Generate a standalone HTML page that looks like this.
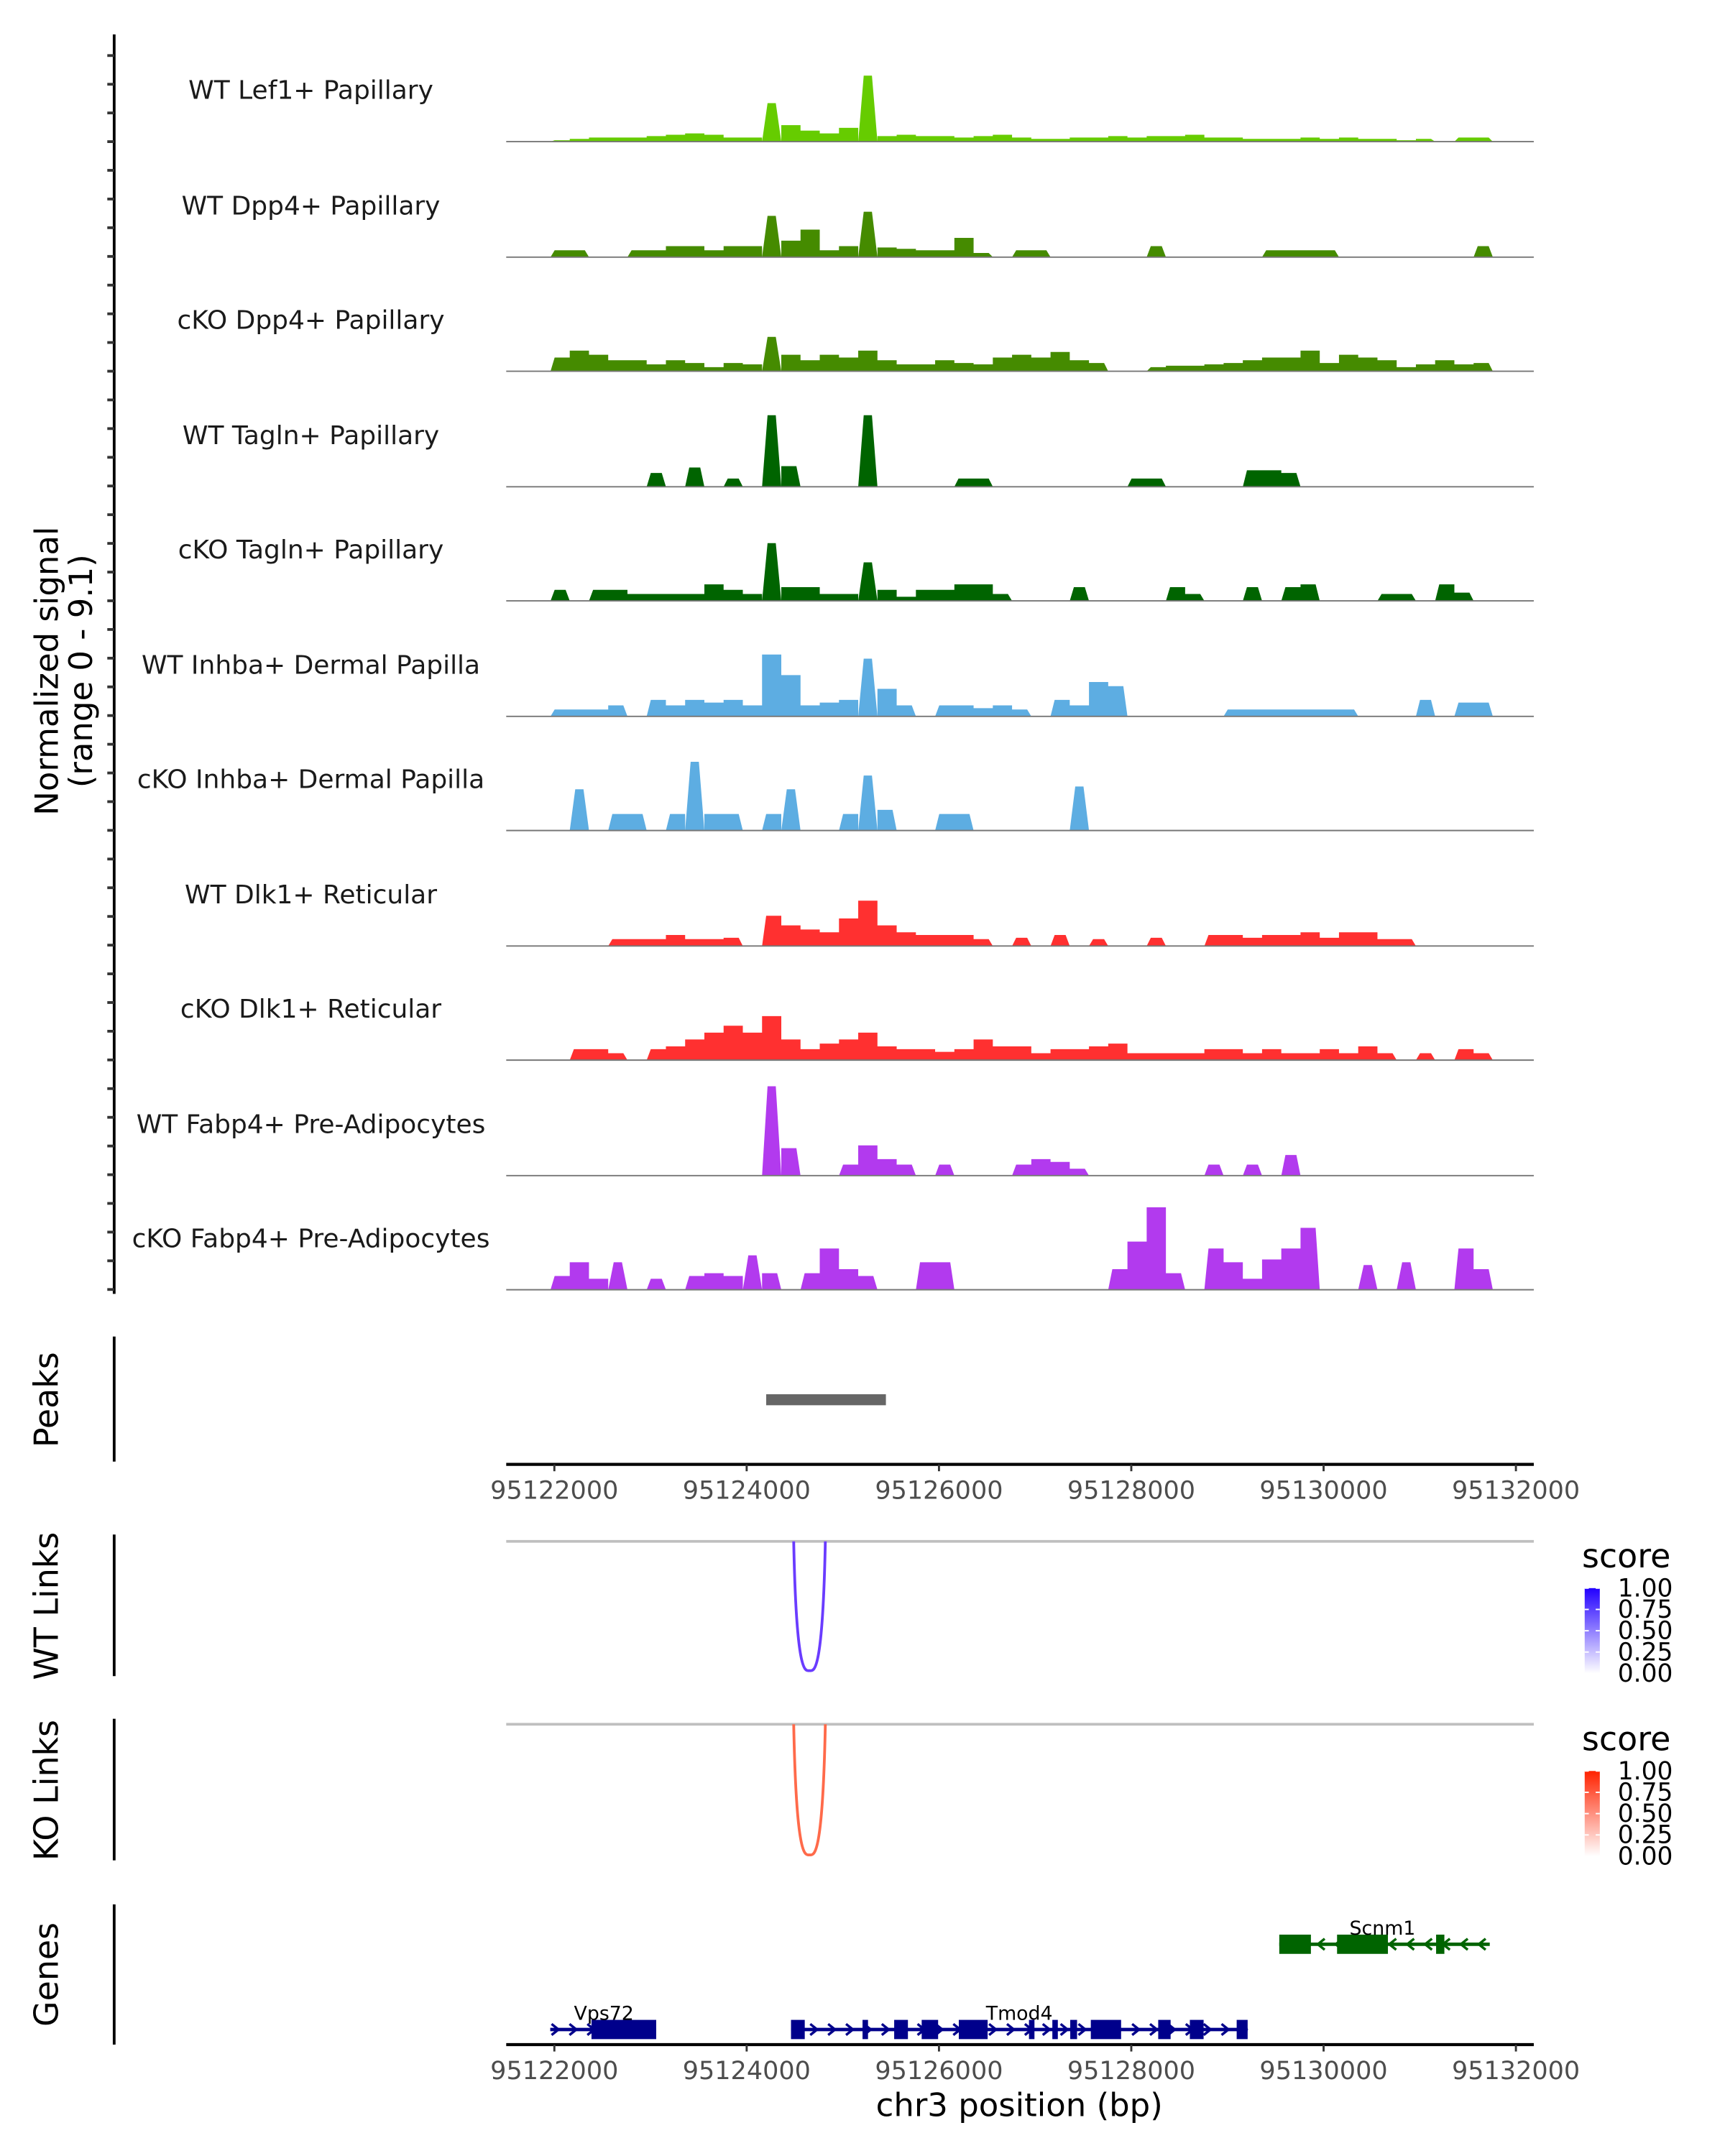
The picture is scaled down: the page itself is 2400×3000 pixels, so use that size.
<!DOCTYPE html>
<html><head><meta charset="utf-8"><style>
html,body{margin:0;padding:0;background:#fff}
svg{display:block}
text{font-family:"DejaVu Sans","Liberation Sans",sans-serif}
</style></head><body>
<svg id="chart" width="2400" height="3000" viewBox="0 0 1254 1568" preserveAspectRatio="none" xmlns="http://www.w3.org/2000/svg"></svg>
<script>
// ---- data ----
const binStart = 95121960;
const binSize = 200;
const trackNames = ["WT Lef1+ Papillary","WT Dpp4+ Papillary","cKO Dpp4+ Papillary","WT Tagln+ Papillary","cKO Tagln+ Papillary","WT Inhba+ Dermal Papilla","cKO Inhba+ Dermal Papilla","WT Dlk1+ Reticular","cKO Dlk1+ Reticular","WT Fabp4+ Pre-Adipocytes","cKO Fabp4+ Pre-Adipocytes"];
const trackColors = ["#66cc00","#458b00","#458b00","#006400","#006400","#5dade2","#5dade2","#ff3030","#ff3030","#b23aee","#b23aee"];
const sigLef1WT = [1,2,3,3,3,4,5,6,5,3,3,28,12,8,6,10,48,4,5,4,4,3,4,5,3,2,2,3,3,4,3,4,4,5,3,3,2,2,2,3,2,3,2,2,1,2,0,3,3,0];
const sigDpp4WT = [5,5,0,0,5,5,8,8,5,8,8,30,12,20,5,8,33,7,6,5,5,14,3,0,5,5,0,0,0,0,0,8,0,0,0,0,0,5,5,5,5,0,0,0,0,0,0,0,8,0];
const sigDpp4KO = [10,15,12,8,8,5,8,6,3,6,5,25,12,8,12,10,15,8,5,5,8,6,5,10,12,10,14,8,6,0,0,3,4,4,5,6,8,10,10,15,6,12,10,8,3,5,8,5,6,0];
const sigTaglnWT = [0,0,0,0,0,10,0,14,0,6,0,52,15,0,0,0,52,0,0,0,0,6,6,0,0,0,0,0,0,0,6,6,0,0,0,0,12,12,10,0,0,0,0,0,0,0,0,0,0,0];
const sigTaglnKO = [8,0,8,8,5,5,5,5,12,8,5,42,10,10,5,5,28,8,3,8,8,12,12,5,0,0,0,10,0,0,0,0,10,5,0,0,10,0,10,12,0,0,0,5,5,0,12,6,0,0];
const sigInhbaWT = [5,5,5,8,0,12,8,12,10,12,8,45,30,8,10,12,42,20,8,0,8,8,6,8,5,0,12,8,25,22,0,0,0,0,0,5,5,5,5,5,5,5,0,0,0,12,0,10,10,0];
const sigInhbaKO = [0,30,0,12,12,0,12,50,12,12,0,12,30,0,0,12,40,15,0,0,12,12,0,0,0,0,0,32,0,0,0,0,0,0,0,0,0,0,0,0,0,0,0,0,0,0,0,0,0,0];
const sigDlk1WT = [0,0,0,5,5,5,8,5,5,6,0,22,15,12,10,20,33,15,10,8,8,8,5,0,6,0,8,0,5,0,0,6,0,0,8,8,6,8,8,10,6,10,10,5,5,0,0,0,0,0];
const sigDlk1KO = [0,8,8,5,0,8,10,15,20,25,20,32,15,8,12,15,20,10,8,8,6,8,15,10,10,5,8,8,10,12,5,5,5,5,8,8,5,8,5,5,8,5,10,5,0,5,0,8,5,0];
const sigFabp4WT = [0,0,0,0,0,0,0,0,0,0,0,65,20,0,0,8,22,12,8,0,8,0,0,0,8,12,10,5,0,0,0,0,0,0,8,0,8,0,15,0,0,0,0,0,0,0,0,0,0,0];
const sigFabp4KO = [10,20,8,20,0,8,0,10,12,10,25,12,0,12,30,15,10,0,0,20,20,0,0,0,0,0,0,0,0,15,35,60,12,0,30,20,8,22,30,45,0,0,18,0,20,0,0,30,15,0];
const trackSignals = [sigLef1WT,sigDpp4WT,sigDpp4KO,sigTaglnWT,sigTaglnKO,sigInhbaWT,sigInhbaKO,sigDlk1WT,sigDlk1KO,sigFabp4WT,sigFabp4KO];
const signalMax = 83;
const xTicks = [95122000,95124000,95126000,95128000,95130000,95132000];
const peakStarts = [95124203];
const peakEnds = [95125448];
const wtLinkStart = [95124489], wtLinkEnd = [95124818], wtLinkScore = [0.8];
const koLinkStart = [95124489], koLinkEnd = [95124818], koLinkScore = [0.75];
const legendTicks = ["1.00","0.75","0.50","0.25","0.00"];
const vps72Range = [95121957, 95123059];
const vps72Exons = [[95122386, 95123059]];
const tmod4Range = [95124461, 95129210];
const tmod4Exons = [[95124461,95124604],[95125205,95125262],[95125534,95125677],[95125820,95125991],[95126206,95126506],[95126936,95126993],[95127179,95127236],[95127365,95127436],[95127579,95127894],[95128280,95128409],[95128609,95128752],[95129096,95129210]];
const scnm1Range = [95129539, 95131728];
const scnm1Exons = [[95129539,95129868],[95130140,95130669],[95131170,95131256]];

// ---- scales ----
const NS = "http://www.w3.org/2000/svg";
const svg = document.getElementById('chart');
const X0 = 403, PXPERBP = 699/10000;
function xs(bp){ return X0 + (bp - 95122000) * PXPERBP; }
const baselines = [103,187,270,354,437,521,604,688,771,855,938];
const trackH = 83;
function ys(v, base){ return base - v / signalMax * trackH; }
function el(tag, attrs, parent){ const e = document.createElementNS(NS, tag); for (const k in attrs) e.setAttribute(k, attrs[k]); (parent||svg).appendChild(e); return e; }
function txt(s, attrs, parent){ const e = el('text', attrs, parent); e.textContent = s; return e; }

// y title
const yt = txt("Normalized signal", {x:0,y:0,'font-size':23.5,'text-anchor':'middle',transform:'translate(42,488) rotate(-90)'});


const yt2 = txt("(range 0 - 9.1)", {x:0,y:0,'font-size':23.5,'text-anchor':'middle',transform:'translate(67,488) rotate(-90)'});


// left axis
const la = el('line',{x1:83,y1:25,x2:83,y2:941,stroke:'#000','stroke-width':2});


for (let y = 103 - 62.6; y <= 941; y += 20.87) {
  const t = el('line',{x1:78,y1:y,x2:83,y2:y,stroke:'#333','stroke-width':2});
  
  
}

// tracks
trackSignals.forEach((sig, ti) => {
  const base = baselines[ti];
  const g = el('g', {});
  
  
  let d = '';
  sig.forEach((v, i) => {
    if (v <= 0) return;
    const a = xs(binStart + i*binSize), b = xs(binStart + (i+1)*binSize);
    const prev = sig[i-1] || 0, next = sig[i+1] || 0;
    const y = ys(v, base);
    let ia = prev > 0 ? a : a + 3, ib = next > 0 ? b : b - 3;
    if (v > 15 && prev < v/2 && next < v/2) { ia = a + 4; ib = b - 4; }
    d += `M${a},${base}L${ia},${y}L${ib},${y}L${b},${base}Z`;
  });
  const p = el('path', {d, fill: trackColors[ti]}, g);
  
  
  const bl = el('line', {x1:368,y1:base,x2:1115,y2:base,stroke:'#777','stroke-width':1}, g);
  
  
  const lab = txt(trackNames[ti], {x:226,y:base-31,'font-size':18.8,'text-anchor':'middle',fill:'#1a1a1a'}, g);
  
  
});

// side panels
function panel(title, y1, y2, cy){
  const l = el('line',{x1:83,y1:y1,x2:83,y2:y2,stroke:'#000','stroke-width':2});
  
  
  const t = txt(title,{x:0,y:0,'font-size':24,'text-anchor':'middle',transform:`translate(42,${cy}) rotate(-90)`});
  
  
}
panel('Peaks', 972, 1063, 1018);
panel('WT Links', 1116, 1219, 1168);
panel('KO Links', 1250, 1353, 1302);
panel('Genes', 1385, 1487, 1436);

// peaks
peakStarts.forEach((s,i) => {
  const r = el('rect',{x:xs(s),y:1014,width:xs(peakEnds[i])-xs(s),height:8,fill:'#666'});
  
  
});

// x axes
function xAxis(y, name){
  const g = el('g',{});
  
  
  el('line',{x1:368,y1:y,x2:1115,y2:y,stroke:'#000','stroke-width':2.2},g);
  xTicks.forEach(t => {
    el('line',{x1:xs(t),y1:y,x2:xs(t),y2:y+5,stroke:'#333','stroke-width':1.5},g);
    const lt = txt(String(t),{x:xs(t),y:y+25,'font-size':18.3,'text-anchor':'middle',fill:'#4d4d4d'},g);
    
    
  });
}
xAxis(1065, 'peaks-x-axis');
xAxis(1487, 'genes-x-axis');
const xt = txt('chr3 position (bp)',{x:741,y:1539,'font-size':23.5,'text-anchor':'middle'});



// links
function links(starts, ends, scores, topY, bottomY, color, c0, name){
  const gl = el('line',{x1:368,y1:topY,x2:1115,y2:topY,stroke:'#bfbfbf','stroke-width':2});
  
  
  starts.forEach((s,i) => {
    const a = xs(s), b = xs(ends[i]), m = (a+b)/2;
    const p = el('path',{d:`M${a},${topY} C${a+2},${bottomY+5} ${m-3},${bottomY} ${m},${bottomY} S${b-2},${bottomY+5} ${b},${topY}`,fill:'none',stroke:color,'stroke-width':2});
    
    
  });
  const lg = el('g',{});
  
  
  txt('score',{x:1150,y:topY+19,'font-size':24},lg);
  const gid = name + '-grad';
  const defs = el('defs',{},lg);
  const gr = el('linearGradient',{id:gid,x1:0,y1:0,x2:0,y2:1},defs);
  el('stop',{offset:0,'stop-color':c0},gr);
  el('stop',{offset:1,'stop-color':'#ffffff'},gr);
  const by = topY + 34;
  el('rect',{x:1152,y:by,width:11,height:62,fill:`url(#${gid})`},lg);
  legendTicks.forEach((t,i) => {
    const yy = by + i*15.5;
    el('line',{x1:1152,y1:yy,x2:1155,y2:yy,stroke:'#fff','stroke-width':1},lg);
    el('line',{x1:1160,y1:yy,x2:1163,y2:yy,stroke:'#fff','stroke-width':1},lg);
    txt(t,{x:1176,y:yy+6,'font-size':18},lg);
  });
}
links(wtLinkStart, wtLinkEnd, wtLinkScore, 1121, 1215, '#6a3cff', '#2200ff', 'wt-links');
links(koLinkStart, koLinkEnd, koLinkScore, 1254, 1349, '#ff6a4a', '#ff2200', 'ko-links');

// genes
function gene(name, range, exons, y, color, dir, labelX){
  const g = el('g',{});
  
  
  el('line',{x1:xs(range[0]),y1:y,x2:xs(range[1]),y2:y,stroke:color,'stroke-width':2.5},g);
  for (let x = xs(range[0]) + 4; x < xs(range[1]) - 2; x += 13) {
    const d = dir > 0 ? `M${x-3},${y-4}L${x+2},${y}L${x-3},${y+4}` : `M${x+3},${y-4}L${x-2},${y}L${x+3},${y+4}`;
    el('path',{d,fill:'none',stroke:color,'stroke-width':1.8},g);
  }
  exons.forEach(e => {
    const r = el('rect',{x:xs(e[0]),y:y-7,width:Math.max(3,xs(e[1])-xs(e[0])),height:14,fill:color},g);
    
    
  });
  const t = txt(name,{x:labelX,y:y-7,'font-size':14,'text-anchor':'middle'},g);
  
  
}
gene('Vps72', vps72Range, vps72Exons, 1476, '#00008b', 1, 439);
gene('Tmod4', tmod4Range, tmod4Exons, 1476, '#00008b', 1, 741);
gene('Scnm1', scnm1Range, scnm1Exons, 1414, '#006400', -1, 1005);
</script>
</body></html>
